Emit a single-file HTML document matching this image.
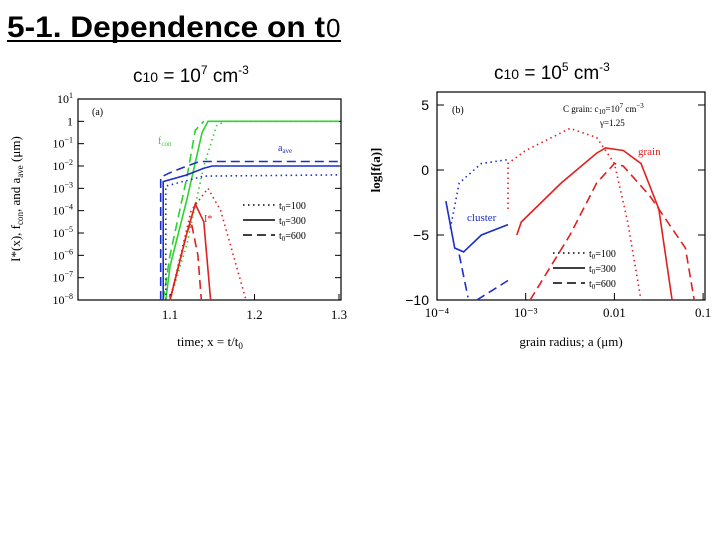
<!DOCTYPE html>
<html><head><meta charset="utf-8"><style>
body{margin:0;background:#fff;width:720px;height:540px;overflow:hidden;font-family:"Liberation Sans",sans-serif}
svg text{font-family:"Liberation Serif",serif}
</style></head><body>
<svg width="720" height="540">
<text x="7" y="37" font-size="30" font-weight="bold" textLength="318" lengthAdjust="spacingAndGlyphs" style="font-family:'Liberation Sans',sans-serif">5-1. Dependence on t</text>
<text x="326" y="37" font-size="26" style="font-family:'Liberation Sans',sans-serif">0</text>
<line x1="7" y1="41" x2="341" y2="41" stroke="#000" stroke-width="2"/>
<text x="133" y="82" font-size="19" style="font-family:'Liberation Sans',sans-serif">c<tspan font-size="14">10</tspan> = 10<tspan font-size="12" dy="-8">7</tspan><tspan dy="8"> cm</tspan><tspan font-size="12" dy="-8">-3</tspan></text>
<text x="494" y="79" font-size="19" style="font-family:'Liberation Sans',sans-serif">c<tspan font-size="14">10</tspan> = 10<tspan font-size="12" dy="-8">5</tspan><tspan dy="8"> cm</tspan><tspan font-size="12" dy="-8">-3</tspan></text>
<g id="ga"></g>
<g id="gb"></g>
</svg>
<script>
const NS="http://www.w3.org/2000/svg";
function mk(p,t,a,txt){const e=document.createElementNS(NS,t);for(const k in a)e.setAttribute(k,a[k]);if(txt!==undefined)e.textContent=txt;p.appendChild(e);return e;}
const DASH={dot:"1.5,3.5",solid:"",dash:"9,5"};
// Chart A data: [x, log10 y]
const fconDot=[[1.10,-8],[1.12,-5.5],[1.14,-2],[1.155,-0.2],[1.165,0],[1.3,0]];
const fconSolid=[[1.095,-8],[1.10,-6.5],[1.12,-3.5],[1.138,-0.5],[1.145,0],[1.3,0]];
const fconDash=[[1.092,-8],[1.10,-6],[1.12,-2.5],[1.13,-0.4],[1.14,0]];
const aaveDot=[[1.095,-8],[1.095,-2.9],[1.14,-2.45],[1.3,-2.4]];
const aaveSolid=[[1.092,-8],[1.092,-2.7],[1.12,-2.4],[1.14,-2.1],[1.15,-2],[1.3,-2]];
const aaveDash=[[1.089,-8],[1.089,-2.5],[1.10,-2.3],[1.12,-2],[1.135,-1.8],[1.3,-1.8]];
const iDot=[[1.10,-8],[1.125,-4],[1.145,-3],[1.16,-4],[1.19,-8]];
const iSolid=[[1.10,-8],[1.12,-5],[1.13,-3.7],[1.14,-4.5],[1.148,-8]];
const iDash=[[1.10,-8],[1.12,-5],[1.125,-4.5],[1.133,-6],[1.137,-8]];
const aXTicks=[1.1,1.2,1.3];
const aYTicks=[1,0,-1,-2,-3,-4,-5,-6,-7,-8];
// Chart B data: [log10 a, log f]
const grainDot=[[-3.2,-3],[-3.2,0.5],[-3,1.5],[-2.5,3.2],[-2.2,2.5],[-2,0.5],[-1.85,-4],[-1.7,-10]];
const clusterDot=[[-3.85,-4.5],[-3.75,-1],[-3.5,0.5],[-3.2,0.8]];
const grainSolid=[[-3.1,-5],[-3.05,-4],[-2.6,-1],[-2.2,1.3],[-2.1,1.7],[-1.9,1.5],[-1.7,0.5],[-1.5,-3],[-1.35,-10]];
const clusterSolid=[[-3.9,-2.4],[-3.8,-6],[-3.7,-6.3],[-3.5,-5],[-3.2,-4.2]];
const grainDash=[[-2.95,-10],[-2.5,-5],[-2.2,-1],[-2.0,0.5],[-1.9,0.3],[-1.6,-2],[-1.2,-6],[-1.1,-10]];
const clusterDash1=[[-3.75,-6.5],[-3.65,-9.8]];
const clusterDash2=[[-3.55,-10],[-3.2,-8.5]];
const bXTicks=[-4,-3,-2,-1];
const bXLabels=["10⁻⁴","10⁻³","0.01","0.1"];
const bYTicks=[5,0,-5,-10];

function frame(g,L,T,R,B){mk(g,"rect",{x:L,y:T,width:R-L,height:B-T,fill:"none",stroke:"#000","stroke-width":1.2,});}
function line(g,pts,X,Y,col,st,name){const e=mk(g,"polyline",{points:pts.map(p=>X(p[0]).toFixed(1)+","+Y(p[1]).toFixed(1)).join(" "),fill:"none",stroke:col,"stroke-width":1.6,"stroke-dasharray":DASH[st]});

}
function legend(g,x,y){const s=["dot","solid","dash"],l=["100","300","600"];
s.forEach((k,i)=>{mk(g,"line",{x1:x,y1:y+i*15,x2:x+32,y2:y+i*15,stroke:"#000","stroke-width":1.4,"stroke-dasharray":DASH[k],});
const t=mk(g,"text",{x:x+36,y:y+i*15+4,"font-size":10,});t.innerHTML='t<tspan font-size="7" dy="2">0</tspan><tspan dy="-2">='+l[i]+'</tspan>';});}

// Chart A
(function(){const g=document.getElementById("ga");const L=78,R=341,T=99,B=300;
const X=x=>170+(x-1.1)*845;const Y=v=>T+(1-v)/9*(B-T);
frame(g,L,T,R,B);
aXTicks.forEach(t=>{mk(g,"line",{x1:X(t),y1:B,x2:X(t),y2:B-6,stroke:"#000"});mk(g,"text",{x:X(t),y:B+19,"font-size":13,"text-anchor":"middle",},String(t));});
aYTicks.forEach(v=>{mk(g,"line",{x1:L,y1:Y(v),x2:L+6,y2:Y(v),stroke:"#000"});mk(g,"line",{x1:R,y1:Y(v),x2:R-6,y2:Y(v),stroke:"#000"});
const t=mk(g,"text",{x:L-5,y:Y(v)+4,"font-size":12,"text-anchor":"end",});
if(v===0)t.textContent="1";else t.innerHTML='10<tspan font-size="8" dy="-5">'+(v<0?"−"+(-v):v)+'</tspan>';});
const gr="#2ed12e",bl="#1a2ec8",rd="#e02020";
line(g,fconDot,X,Y,gr,"dot","fcon-t100");line(g,fconSolid,X,Y,gr,"solid","fcon-t300");line(g,fconDash,X,Y,gr,"dash","fcon-t600");
line(g,aaveDot,X,Y,bl,"dot","aave-t100");line(g,aaveSolid,X,Y,bl,"solid","aave-t300");line(g,aaveDash,X,Y,bl,"dash","aave-t600");
line(g,iDot,X,Y,rd,"dot","istar-t100");line(g,iSolid,X,Y,rd,"solid","istar-t300");line(g,iDash,X,Y,rd,"dash","istar-t600");
mk(g,"text",{x:92,y:115,"font-size":10,},"(a)");
mk(g,"text",{x:158,y:144,"font-size":10,fill:gr,}).innerHTML='f<tspan font-size="7" dy="2">con</tspan>';
mk(g,"text",{x:278,y:151,"font-size":10,fill:bl,}).innerHTML='a<tspan font-size="7" dy="2">ave</tspan>';
mk(g,"text",{x:204,y:222,"font-size":10,fill:rd,},"I*");
legend(g,243,205);
mk(g,"text",{x:210,y:346,"font-size":13,"text-anchor":"middle",}).innerHTML='time; x = t/t<tspan font-size="9" dy="3">0</tspan>';
const yt=mk(g,"text",{x:0,y:0,"font-size":13,"text-anchor":"middle",transform:"translate(20,199) rotate(-90)",});
yt.innerHTML='I*(x), f<tspan font-size="9" dy="3">con</tspan><tspan dy="-3">, and a</tspan><tspan font-size="9" dy="3">ave</tspan><tspan dy="-3"> (μm)</tspan>';
})();

// Chart B
(function(){const g=document.getElementById("gb");const L=437,R=705,T=92,B=300;
const X=v=>437+(v+4)*88.7;const Y=v=>T+(6-v)/16*(B-T);
frame(g,L,T,R,B);
bXTicks.forEach((t,i)=>{mk(g,"line",{x1:X(t),y1:B,x2:X(t),y2:B-7,stroke:"#000"});mk(g,"text",{x:X(t),y:B+17,"font-size":13,"text-anchor":"middle",},bXLabels[i]);});
bYTicks.forEach(v=>{mk(g,"line",{x1:L,y1:Y(v),x2:L+7,y2:Y(v),stroke:"#000"});mk(g,"line",{x1:R,y1:Y(v),x2:R-7,y2:Y(v),stroke:"#000"});
mk(g,"text",{x:L-8,y:Y(v)+5,"font-size":14,"text-anchor":"end",style:"font-family:'Liberation Sans',sans-serif",},v<0?"−"+(-v):String(v));});
const bl="#1a2ec8",rd="#e02020";
line(g,grainDot,X,Y,rd,"dot","grain-t100");line(g,clusterDot,X,Y,bl,"dot","cluster-t100");
line(g,grainSolid,X,Y,rd,"solid","grain-t300");line(g,clusterSolid,X,Y,bl,"solid","cluster-t300");
line(g,grainDash,X,Y,rd,"dash","grain-t600");line(g,clusterDash1,X,Y,bl,"dash","cluster-t600-a");line(g,clusterDash2,X,Y,bl,"dash","cluster-t600-b");
mk(g,"text",{x:452,y:113,"font-size":10,},"(b)");
mk(g,"text",{x:563,y:112,"font-size":9,}).innerHTML='C grain: c<tspan font-size="7" dy="2">10</tspan><tspan dy="-2">=10</tspan><tspan font-size="7" dy="-4">7</tspan><tspan dy="4"> cm</tspan><tspan font-size="7" dy="-4">−3</tspan>';
mk(g,"text",{x:600,y:126,"font-size":9,},"γ=1.25");
mk(g,"text",{x:638,y:155,"font-size":11,fill:rd,},"grain");
mk(g,"text",{x:467,y:221,"font-size":11,fill:bl,},"cluster");
legend(g,553,253);
mk(g,"text",{x:571,y:346,"font-size":13,"text-anchor":"middle",},"grain radius; a (μm)");
mk(g,"text",{x:0,y:0,"font-size":13,"font-weight":"bold","text-anchor":"middle",transform:"translate(380,170) rotate(-90)",},"log[f(a)]");
})();
</script>
</body></html>
